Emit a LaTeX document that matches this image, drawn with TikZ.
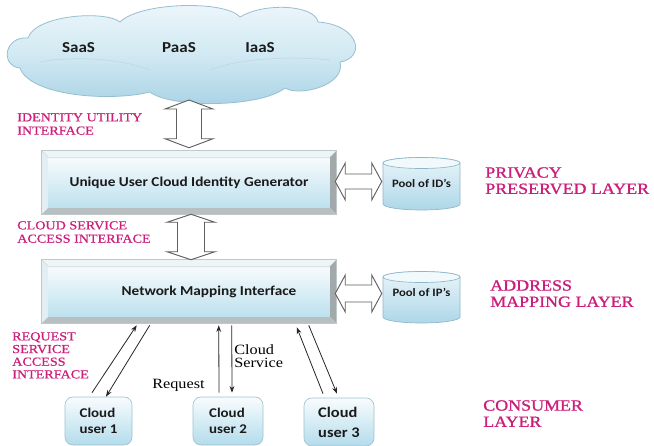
\documentclass[tikz,border=0pt]{standalone}
\usepackage{fontspec}
\setmainfont{Liberation Serif}
\newfontfamily\serifwide[FakeStretch=1.15]{Liberation Serif}
\newfontfamily\serifheavy[FakeStretch=1.15,FakeBold=1.2]{Liberation Serif}
\newfontfamily\serifmid[FakeStretch=1.15,FakeBold=0.6]{Liberation Serif}
\newfontfamily\calwide[FakeStretch=1.12]{Carlito}
\usetikzlibrary{calc,arrows.meta,backgrounds}

\definecolor{layerpink}{HTML}{CC1F7C}
\definecolor{cloudtop}{HTML}{EEF7FB}
\definecolor{cloudmid}{HTML}{D2E9F3}
\definecolor{cloudbot}{HTML}{A8D2E5}
\definecolor{cloudline}{HTML}{97BFD2}
\definecolor{facetop}{HTML}{F7FBFD}
\definecolor{facebot}{HTML}{BDE1EE}
\definecolor{bevtop}{HTML}{EEF5F7}
\definecolor{bevleft}{HTML}{E2EEF2}
\definecolor{bevright}{HTML}{A2A9AB}
\definecolor{bevbot}{HTML}{B8BFC1}
\definecolor{frameline}{HTML}{BFC7CA}
\definecolor{usertop}{HTML}{F9FCFE}
\definecolor{userbot}{HTML}{B3DCEC}
\definecolor{userline}{HTML}{9EC3D3}
\definecolor{cyltop}{HTML}{EAF5FA}
\definecolor{cylbot}{HTML}{ADD7E9}
\definecolor{cylend}{HTML}{F2F9FC}
\definecolor{cylline}{HTML}{8FB7C9}
\definecolor{fatline}{HTML}{606060}
\definecolor{inktext}{HTML}{1A1A1A}

% bevelled frame behind a panel node
\newcommand{\bevelpanel}[1]{%
  \fill[bevtop] (#1.north west) -- (#1.north east) -- ($(#1.north east)+(-7,7)$) -- ($(#1.north west)+(7,7)$) -- cycle;
  \fill[bevleft] (#1.north west) -- ($(#1.north west)+(7,7)$) -- ($(#1.south west)+(7,-7)$) -- (#1.south west) -- cycle;
  \fill[bevright] (#1.north east) -- (#1.south east) -- ($(#1.south east)+(-7,-7)$) -- ($(#1.north east)+(-7,7)$) -- cycle;
  \fill[bevbot] (#1.south west) -- (#1.south east) -- ($(#1.south east)+(-7,-7)$) -- ($(#1.south west)+(7,-7)$) -- cycle;
  \shade[top color=facetop,bottom color=facebot] ($(#1.north west)+(7,7)$) rectangle ($(#1.south east)+(-7,-7)$);
  \draw[frameline,line width=0.5pt] (#1.north west) rectangle (#1.south east);
  \draw[frameline!70!white,line width=0.4pt] (#1.north west) -- ($(#1.north west)+(7,7)$) -- ($(#1.north east)+(-7,7)$) -- (#1.north east);
}
% hollow double arrow, vertical: #1 top tip, #2 bottom tip, #3 head half width, #4 shaft half width, #5 head length
\newcommand{\vfat}[5]{%
  \draw[fatarrow] (#1) -- ($(#1)+(#3,#5)$) -- ($(#1)+(#4,#5)$) -- ($(#2)+(#4,-#5)$) -- ($(#2)+(#3,-#5)$)
    -- (#2) -- ($(#2)+(-#3,-#5)$) -- ($(#2)+(-#4,-#5)$) -- ($(#1)+(-#4,#5)$) -- ($(#1)+(-#3,#5)$) -- cycle;
}
% hollow double arrow, horizontal: #1 left tip, #2 right tip
\newcommand{\hfat}[5]{%
  \draw[fatarrow] (#1) -- ($(#1)+(#5,-#3)$) -- ($(#1)+(#5,-#4)$) -- ($(#2)+(-#5,-#4)$) -- ($(#2)+(-#5,-#3)$)
    -- (#2) -- ($(#2)+(-#5,#3)$) -- ($(#2)+(-#5,#4)$) -- ($(#1)+(#5,#4)$) -- ($(#1)+(#5,#3)$) -- cycle;
}
% cylinder store: #1 centre x, #2 top ellipse y, #3 bottom ellipse y
\newcommand{\store}[3]{%
  \shade[top color=cyltop,bottom color=cylbot,draw=cylline,line width=0.5pt]
    (#1-38.5,#2) -- (#1-38.5,#3) arc[start angle=180,end angle=0,x radius=38.5,y radius=6]
    -- (#1+38.5,#2) arc[start angle=0,end angle=-180,x radius=38.5,y radius=5.5] -- cycle;
  \draw[fill=cylend,draw=cylline,line width=0.5pt] (#1,#2) ellipse[x radius=38.5,y radius=5.5];
}

\begin{document}
\begin{tikzpicture}[x=0.75pt,y=-0.75pt,
  panel/.style={minimum width=220.5pt,minimum height=47.25pt,inner sep=0pt,text=inktext,
    font={\calwide\bfseries\fontsize{10.2}{12}\selectfont}},
  cloudtext/.style={inner sep=0pt,text=inktext,font={\calwide\bfseries\fontsize{11.4}{13}\selectfont}},
  pooltext/.style={minimum width=57.75pt,inner sep=0pt,text=inktext,font={\calwide\bfseries\fontsize{8.5}{10}\selectfont}},
  userbox/.style={rounded corners=6pt,draw=userline,line width=0.5pt,top color=usertop,bottom color=userbot,
    minimum height=36pt,inner sep=0pt,align=left,text=inktext,font={\calwide\bfseries\fontsize{10}{12}\selectfont}},
  pinklabel/.style={anchor=north west,inner sep=0pt,align=left,text=layerpink,font={\serifmid\fontsize{9.2}{10}\selectfont}},
  layerlabel/.style={anchor=north west,inner sep=0pt,align=left,text=layerpink,font={\serifheavy\fontsize{11.7}{12.2}\selectfont}},
  blacklabel/.style={inner sep=0pt,align=left,text=black,font={\serifwide\fontsize{10.6}{10}\selectfont}},
  fatarrow/.style={draw=fatline,fill=white,line width=0.7pt,line join=miter},
  thinarrow/.style={draw=black!85,line width=0.6pt,-{Stealth[length=5pt,width=3.6pt]}}
]
\useasboundingbox (0,0) rectangle (654,446);

% cloud of services
\shade[top color=cloudtop,bottom color=cloudbot,middle color=cloudmid,draw=cloudline,line width=0.6pt]
  (20,68) .. controls (0,66) and (4,36) .. (28,38)
  .. controls (35,15) and (105,10) .. (120,22)
  .. controls (140,2) and (225,0) .. (240,17)
  .. controls (265,2) and (315,5) .. (318,22)
  .. controls (360,25) and (366,58) .. (340,62)
  .. controls (346,85) and (300,97) .. (285,88)
  .. controls (260,108) and (170,108) .. (150,92)
  .. controls (110,102) and (30,96) .. (20,68) -- cycle;
\draw[cloudline!60!white,line width=0.5pt] (40,62) .. controls (70,56) and (120,58) .. (150,70);
\draw[cloudline!60!white,line width=0.5pt] (210,70) .. controls (240,58) and (290,56) .. (330,60);
\node[cloudtext] (saas) at (78.5,48) {SaaS};
\node[cloudtext] (paas) at (179,48) {PaaS};
\node[cloudtext] (iaas) at (260,48) {IaaS};
\coordinate (cloudbase) at (189,100);

% layer panels
\node[panel] (gen) at (189,182.5) {Unique User Cloud Identity Generator};
\node[panel] (nmi) at (189,291.5) {\hspace{30pt}Network Mapping Interface};
\begin{pgfonlayer}{background}
  \fill[white] (0,0) rectangle (654,446);
  \bevelpanel{gen}
  \bevelpanel{nmi}
\end{pgfonlayer}

% identifier and address stores
\store{421.5}{163}{204}
\store{421.5}{277}{317}
\node[pooltext] (ids) at (421.5,183) {Pool of ID’s};
\node[pooltext] (ips) at (421.5,292.5) {Pool of IP’s};

% interfaces between layers
\vfat{cloudbase}{$(gen.north)+(0,-3)$}{24}{12.5}{9}
\vfat{$(gen.south)+(2,0)$}{$(nmi.north)+(2,0)$}{24}{13.5}{8}
\hfat{$(gen.east)+(-1,-1)$}{$(ids.west)+(-1,-1.5)$}{18.5}{7.5}{10}
\hfat{$(nmi.east)+(-1,2)$}{$(ips.west)+(-1,1)$}{18.5}{8.5}{10}

% consumers
\node[userbox,minimum width=50.25pt] (u1) at (98.5,421) {Cloud\\user 1};
\node[userbox,minimum width=52.5pt] (u2) at (228,421) {Cloud\\user 2};
\node[userbox,minimum width=52.5pt,font={\calwide\bfseries\fontsize{11}{15}\selectfont}] (u3) at (339,422) {Cloud\\user 3};

\draw[thinarrow] ($(u1.north)+(-6.5,-4)$) -- ($(nmi.south west)+(95,2)$);
\draw[thinarrow] ($(nmi.south west)+(108,2)$) -- ($(u1.north)+(7.5,0)$);
\draw[thinarrow] ($(u2.north)+(-9,-4)$) -- ($(nmi.south west)+(177,2)$);
\draw[thinarrow] ($(nmi.south west)+(190,2)$) -- ($(u2.north)+(4,-4)$);
\draw[thinarrow] ($(u3.north)+(-16,-4)$) -- ($(nmi.south west)+(255,4)$);
\draw[thinarrow] ($(nmi.south west)+(267,2)$) -- ($(u3.north)+(-2,-4)$);

% labels
\node[pinklabel] (iui) at (17,113) {IDENTITY UTILITY\\INTERFACE};
\node[pinklabel] (csai) at (17,221) {CLOUD SERVICE\\ACCESS INTERFACE};
\node[pinklabel,font={\serifmid\fontsize{9.2}{9.5}\selectfont}] (rsai) at (12,332) {REQUEST\\SERVICE\\ACCESS\\INTERFACE};
\node[layerlabel] (ppl) at (485,167) {PRIVACY\\PRESERVED LAYER};
\node[layerlabel] (aml) at (490,280) {ADDRESS\\MAPPING LAYER};
\node[layerlabel] (cl) at (483,400) {CONSUMER\\LAYER};
\node[blacklabel,anchor=north west] (svc) at (234,344) {Cloud\\Service};
\node[blacklabel,anchor=base west] (req) at (152,388) {Request};
\end{tikzpicture}
\end{document}
